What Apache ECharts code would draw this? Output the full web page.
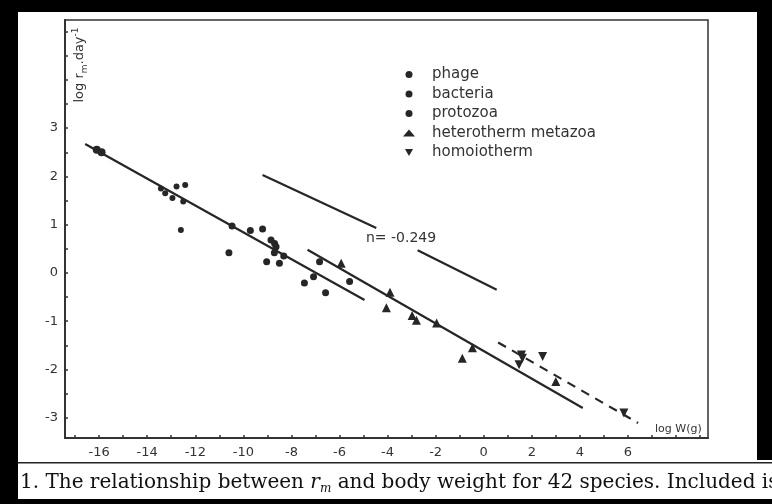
<!DOCTYPE html>
<html>
<head>
<meta charset="utf-8">
<script src="https://cdn.jsdelivr.net/npm/echarts@6/dist/echarts.min.js"></script>
<style>
html,body{margin:0;padding:0;background:#fff;}
#c{width:772px;height:504px;}
</style>
</head>
<body>
<div id="c"></div>
<script>
// ---- data (log W in g, log r_m per day) ----
const phageX = [-16.1, -15.9];
const phageY = [2.55, 2.5];
const bacteriaX = [-13.43, -13.25, -12.95, -12.78, -12.42, -12.5, -12.6];
const bacteriaY = [1.75, 1.65, 1.55, 1.79, 1.82, 1.48, 0.89];
const protozoaX = [-10.47, -10.6, -9.71, -9.2, -8.85, -8.7, -8.64, -8.71, -9.03, -8.5, -8.32, -7.46, -7.08, -6.83, -6.58, -5.58];
const protozoaY = [0.97, 0.42, 0.88, 0.91, 0.68, 0.61, 0.54, 0.42, 0.23, 0.2, 0.35, -0.21, -0.08, 0.23, -0.41, -0.18];
const heteroX = [-5.93, -3.9, -4.05, -2.98, -2.8, -1.96, -0.47, -0.89, 3.0];
const heteroY = [0.2, -0.4, -0.72, -0.88, -0.98, -1.04, -1.55, -1.77, -2.25];
const homoX = [1.57, 1.61, 1.47, 2.45, 5.83];
const homoY = [-1.7, -1.77, -1.9, -1.73, -2.9];

// fitted lines (end points)
const lineAX = [-16.58, -4.96];
const lineAY = [2.67, -0.56];
const lineBX = [-7.33, 4.12];
const lineBY = [0.48, -2.8];
const lineCX = [0.6, 6.42];
const lineCY = [-1.44, -3.11];
const lineN1X = [-9.2, -4.47];
const lineN1Y = [2.03, 0.93];
const lineN2X = [-2.75, 0.54];
const lineN2Y = [0.47, -0.35];

const legendNames = ['phage', 'bacteria', 'protozoa', 'heterotherm metazoa', 'homoiotherm'];
const xTickLabels = [-16, -14, -12, -10, -8, -6, -4, -2, 0, 2, 4, 6];
const xTicks = [-17,-16,-15,-14,-13,-12,-11,-10,-9,-8,-7,-6,-5,-4,-3,-2,-1,0,1,2,3,4,5,6,7,8,9];
const yTickLabels = [-3, -2, -1, 0, 1, 2, 3];
const yTicks = [-3,-2.5,-2,-1.5,-1,-0.5,0,0.5,1,1.5,2,2.5,3,3.5,4,4.5,5];
const nLabel = 'n= -0.249';

const zip = (xs, ys) => xs.map((x, i) => [x, ys[i]]);
const ink = '#262626';
const invTri = 'path://M0,0 L10,0 L5,8.66 Z';

const chart = echarts.init(document.getElementById('c'));
const lineSeries = (xs, ys, dashed) => ({
  type: 'line', data: zip(xs, ys), symbol: 'none', silent: true,
  lineStyle: { color: ink, width: 2.2, type: dashed ? [9, 7] : 'solid' }, z: 1
});
const scat = (name, xs, ys, symbol, size) => ({
  name, type: 'scatter', data: zip(xs, ys), symbol, symbolSize: size,
  itemStyle: { color: ink, opacity: 1 }, z: 3
});

chart.setOption({
  animation: false,
  backgroundColor: '#fff',
  grid: { left: 65, right: 64, top: 20, bottom: 66, show: true, borderColor: '#333', borderWidth: 1.5, backgroundColor: 'transparent' },
  legend: {
    data: legendNames.map((n, i) => i === 4 ? { name: n, icon: invTri } : { name: n }),
    orient: 'vertical', left: 398, top: 62,
    itemWidth: 12, itemHeight: 7, itemGap: 4.5,
    textStyle: { fontFamily: 'DejaVu Sans', fontSize: 15, lineHeight: 14.5, color: '#333', padding: [0, 0, 0, 12] }
  },
  xAxis: {
    type: 'value', min: -17.42, max: 9.33,
    axisLine: { onZero: false, lineStyle: { color: '#333', width: 2 } },
    splitLine: { show: false },
    axisTick: { inside: true, length: 3, customValues: xTicks, lineStyle: { color: '#333', width: 1.5 } },
    axisLabel: { customValues: xTickLabels, margin: 8, fontFamily: 'DejaVu Sans', fontSize: 13, color: '#333' }
  },
  yAxis: {
    type: 'value', min: -3.42, max: 5.24,
    axisLine: { onZero: false, lineStyle: { color: '#333', width: 2 } },
    splitLine: { show: false },
    axisTick: { inside: true, length: 3, customValues: yTicks, lineStyle: { color: '#333', width: 1.5 } },
    axisLabel: { customValues: yTickLabels, margin: 7, fontFamily: 'DejaVu Sans', fontSize: 13, color: '#333' }
  },
  series: [
    lineSeries(lineAX, lineAY, false),
    lineSeries(lineBX, lineBY, false),
    lineSeries(lineCX, lineCY, true),
    lineSeries(lineN1X, lineN1Y, false),
    lineSeries(lineN2X, lineN2Y, false),
    scat('phage', phageX, phageY, 'circle', 8),
    scat('bacteria', bacteriaX, bacteriaY, 'circle', 6),
    scat('protozoa', protozoaX, protozoaY, 'circle', 7),
    scat('heterotherm metazoa', heteroX, heteroY, 'triangle', 9),
    scat('homoiotherm', homoX, homoY, invTri, 9)
  ],
  graphic: [
    { type: 'rect', left: 0, top: 0, shape: { width: 772, height: 12 }, style: { fill: '#000' }, z: 10 },
    { type: 'rect', left: 0, top: 0, shape: { width: 18, height: 504 }, style: { fill: '#000' }, z: 10 },
    { type: 'rect', left: 757, top: 0, shape: { width: 15, height: 460 }, style: { fill: '#000' }, z: 10 },
    { type: 'rect', left: 0, top: 499, shape: { width: 772, height: 5 }, style: { fill: '#000' }, z: 10 },
    { type: 'rect', left: 18, top: 462, shape: { width: 754, height: 1.5 }, style: { fill: '#222' }, z: 10 },
    {
      type: 'text', x: 80, y: 65, rotation: Math.PI / 2, z: 10,
      style: {
        text: '{a|log r}{s|m}{a|.day}{p|-1}', align: 'center', verticalAlign: 'middle',
        rich: {
          a: { fontFamily: 'DejaVu Sans', fontSize: 13, fill: '#333', lineHeight: 18, verticalAlign: 'middle' },
          s: { fontFamily: 'DejaVu Sans', fontSize: 9, fill: '#333', lineHeight: 18, verticalAlign: 'bottom' },
          p: { fontFamily: 'DejaVu Sans', fontSize: 9, fill: '#333', lineHeight: 18, verticalAlign: 'top' }
        }
      }
    },
    { type: 'text', left: 366, top: 231, z: 10, style: { text: nLabel, fontFamily: 'DejaVu Sans', fontSize: 14, fill: '#333' } },
    { type: 'text', left: 655, top: 424, z: 10, style: { text: 'log W(g)', fontFamily: 'DejaVu Sans', fontSize: 11, fill: '#333' } },
    {
      type: 'text', left: 20, top: 473, z: 10,
      style: {
        text: '{a|1. The relationship between }{i|r}{s|m}{a| and body weight for 42 species. Included is}',
        rich: {
          a: { fontFamily: 'DejaVu Serif', fontSize: 20, fill: '#111', lineHeight: 24, verticalAlign: 'middle' },
          i: { fontFamily: 'DejaVu Serif', fontStyle: 'italic', fontSize: 20, fill: '#111', lineHeight: 24, verticalAlign: 'middle' },
          s: { fontFamily: 'DejaVu Serif', fontStyle: 'italic', fontSize: 12, fill: '#111', lineHeight: 24, verticalAlign: 'bottom' }
        }
      }
    }
  ]
});
</script>
</body>
</html>
